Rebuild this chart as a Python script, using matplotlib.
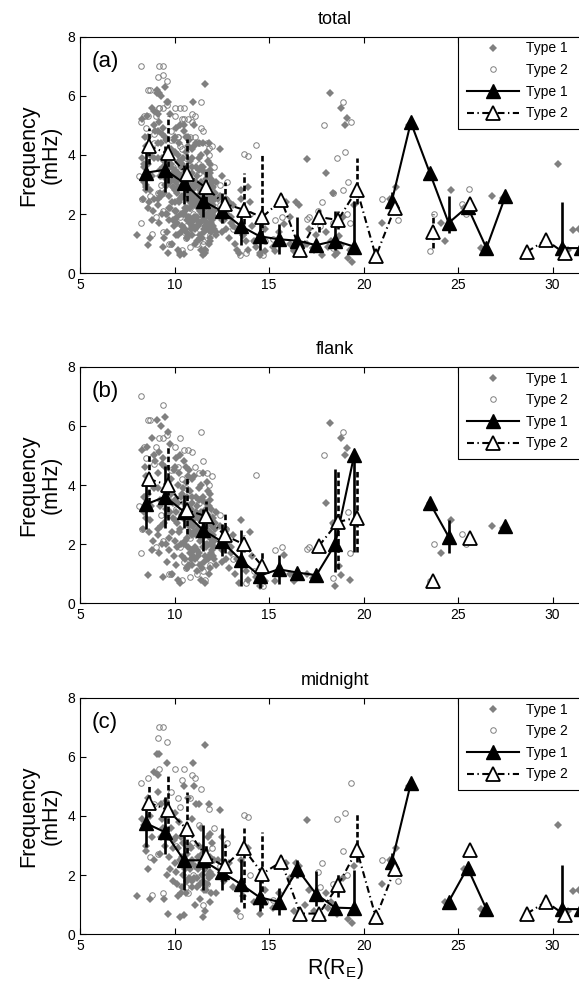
import numpy as np
import matplotlib
matplotlib.use("Agg")
import matplotlib.pyplot as plt
import matplotlib.patches as patches

plt.rcParams['font.family'] = ['Liberation Sans', 'DejaVu Sans']
plt.rcParams['lines.scale_dashes'] = False

# ---- binned means (bin centres) ----
t1_x = [8.5, 9.5, 10.5, 11.5, 12.5, 13.5, 14.5, 15.5, 16.5, 17.5, 18.5, 19.5,
        20.5, 21.5, 22.5, 23.5, 24.5, 25.5, 26.5, 27.5, 28.5, 29.5, 30.5, 31.5]
t2_x = [8.65, 9.65, 10.65, 11.65, 12.65, 13.65, 14.65, 15.65, 16.65, 17.65, 18.65, 19.65,
        20.65, 21.65, 22.65, 23.65, 24.65, 25.65, 26.65, 27.65, 28.65, 29.65, 30.65]
nan = np.nan

# (a) total
a_t1_y = [3.4, 3.5, 3.05, 2.45, 2.1, 1.6, 1.25, 1.15, 1.1, 0.95, 1.1, 0.9,
          nan, 2.45, 5.1, 3.4, 1.7, 2.25, 0.85, 2.6, nan, nan, 0.85, 0.85]
a_t1_lo = [0.6, 0.75, 0.7, 0.55, 0.4, 0.65, 0.45, 0.5, 0.4, 0.15, 0.3, 0.0,
           0, 0.3, 0, 0, 0.35, 0, 0, 0, 0, 0, 0, 0]
a_t1_hi = [0.75, 0.8, 0.6, 0.5, 0.6, 0.45, 0.45, 0.5, 0.8, 0.15, 1.0, 1.55,
           0, 0.3, 0, 0, 0.9, 0, 0, 0, 0, 0, 1.55, 0.45]
a_t2_y = [4.3, 4.05, 3.35, 2.9, 2.35, 2.15, 1.9, 2.47, 0.78, 1.9, 1.8, 2.83,
          0.57, 2.2, nan, 1.4, nan, 2.35, nan, nan, 0.73, 1.12, 0.67]
a_t2_lo = [0.6, 1.0, 0.9, 0.5, 0.5, 0.5, 0.65, 0.2, 0.1, 0.5, 0.3, 0.5,
           0, 0.2, 0, 0.55, 0, 0.2, 0, 0, 0, 0, 0]
a_t2_hi = [0.6, 1.25, 1.2, 0.55, 0.75, 1.25, 2.1, 0.2, 0.1, 0.3, 0.3, 1.05,
           0, 0.2, 0, 0.6, 0, 0.2, 0, 0, 0, 0, 0]

# (b) flank
b_t1_y = [3.35, 3.6, 3.1, 2.48, 2.09, 1.47, 0.93, 1.15, 1.04, 0.95, 2.0, 5.0,
          nan, nan, nan, 3.4, 2.25, nan, nan, 2.6, nan, nan, nan, nan]
b_t1_lo = [0.85, 1.05, 0.55, 0.7, 0.5, 0.9, 0.4, 0.5, 0.1, 0.1, 0.95, 3.25,
           0, 0, 0, 0, 0.55, 0, 0, 0, 0, 0, 0, 0]
b_t1_hi = [0.85, 1.05, 0.55, 0.7, 0.6, 1.0, 0.4, 0.5, 0.1, 0.1, 2.55, 0.0,
           0, 0, 0, 0, 0.55, 0, 0, 0, 0, 0, 0, 0]
b_t2_y = [4.2, 4.0, 3.15, 2.95, 2.3, 2.0, 1.25, nan, nan, 1.95, 2.75, 2.9,
          nan, nan, nan, 0.75, nan, 2.2, nan, nan, nan, nan, nan]
b_t2_lo = [0.8, 1.2, 0.8, 0.45, 0.6, 0.25, 0.3, 0, 0, 0.1, 1.6, 1.15,
           0, 0, 0, 0, 0, 0.1, 0, 0, 0, 0, 0]
b_t2_hi = [0.85, 1.3, 1.1, 0.5, 0.8, 0.3, 0.55, 0, 0, 0.1, 1.75, 1.6,
           0, 0, 0, 0, 0, 0.1, 0, 0, 0, 0, 0]

# (c) midnight
c_t1_y = [3.75, 3.45, 2.5, 2.5, 2.1, 1.7, 1.25, 1.1, 2.2, 1.35, 0.9, 0.88,
          nan, 2.45, 5.1, nan, 1.1, 2.25, 0.85, nan, nan, nan, 0.85, 0.85]
c_t1_lo = [0.8, 0.75, 1.0, 1.0, 0.6, 0.6, 0.45, 0.45, 0.3, 0.4, 0.15, 0,
           0, 0.3, 0, 0, 0, 0, 0, 0, 0, 0, 0, 0]
c_t1_hi = [0.45, 1.2, 1.0, 1.2, 1.5, 0.85, 0.85, 0.45, 0.3, 0.8, 0.15, 1.3,
           0, 0.3, 0, 0, 0, 0, 0, 0, 0, 0, 1.5, 0]
c_t2_y = [4.45, 4.2, 3.55, 2.65, 2.3, 2.9, 2.05, 2.45, 0.7, 0.7, 1.65, 2.85,
          0.57, 2.2, nan, nan, nan, 2.85, nan, nan, 0.7, 1.1, 0.65]
c_t2_lo = [0.5, 1.0, 0.8, 0.4, 0.5, 2.0, 1.15, 0.2, 0.1, 0, 0.4, 0.4,
           0, 0.2, 0, 0, 0, 0, 0, 0, 0, 0, 0]
c_t2_hi = [0.55, 1.2, 1.25, 0.4, 0.75, 0.7, 1.4, 0.2, 0.1, 0, 0.4, 1.2,
           0, 0.2, 0, 0, 0, 0, 0, 0, 0, 0, 0]

# ---- individual events (R, frequency) ----
flank_t1 = [
    (8.3, 5.2), (8.4, 3.1), (8.45, 4.6), (8.5, 2.9), (8.55, 5.3), (8.6, 3.7), (8.65, 2.4), (8.7, 4.1),
    (8.75, 3.3), (8.8, 5.6), (8.85, 2.1), (8.9, 3.9), (8.95, 4.8), (8.4, 3.6), (8.6, 0.95), (8.8, 1.8),
    (8.5, 4.3), (8.7, 2.8), (8.9, 5.0), (8.35, 2.5),
    (9.05, 6.2), (9.1, 2.3), (9.15, 4.4), (9.2, 1.7), (9.25, 3.5), (9.3, 6.0), (9.35, 2.0), (9.4, 4.9),
    (9.45, 2.7), (9.5, 6.3), (9.55, 3.2), (9.6, 1.4), (9.65, 4.0), (9.7, 2.2), (9.75, 5.4), (9.8, 3.7),
    (9.85, 1.0), (9.9, 2.9), (9.95, 4.5), (9.1, 3.9), (9.2, 5.1), (9.3, 2.6), (9.4, 0.9), (9.5, 4.6),
    (9.6, 3.0), (9.7, 1.8), (9.8, 4.2), (9.9, 3.4), (9.15, 2.5), (9.35, 4.7), (9.55, 2.0), (9.75, 3.1),
    (9.95, 1.6), (9.25, 3.3), (9.45, 3.8), (9.65, 5.8), (9.85, 2.4),
    (10.0, 2.8), (10.05, 4.6), (10.1, 3.1), (10.15, 1.9), (10.2, 4.0), (10.25, 2.4), (10.3, 5.0),
    (10.35, 3.6), (10.4, 1.6), (10.45, 2.9), (10.5, 4.8), (10.55, 2.1), (10.6, 3.3), (10.65, 1.2),
    (10.7, 4.3), (10.75, 2.6), (10.8, 3.8), (10.85, 1.5), (10.9, 4.2), (10.95, 2.3),
    (10.05, 3.5), (10.15, 2.7), (10.25, 4.4), (10.35, 2.0), (10.45, 3.9), (10.55, 3.0), (10.65, 2.2),
    (10.75, 4.5), (10.85, 3.2), (10.95, 1.8), (10.1, 1.3), (10.2, 3.4), (10.3, 2.5), (10.4, 3.7),
    (10.5, 2.0), (10.6, 4.1), (10.7, 2.9), (10.8, 1.7), (10.9, 3.6), (11.0, 2.6), (10.0, 2.1),
    (10.2, 0.8), (10.4, 3.0), (10.6, 4.6), (10.8, 2.4), (10.3, 0.7), (10.5, 3.4), (10.7, 1.9),
    (10.9, 2.8), (10.1, 4.9),
    (11.05, 4.3), (11.1, 2.9), (11.15, 3.6), (11.2, 1.8), (11.25, 2.5), (11.3, 3.9), (11.35, 1.3),
    (11.4, 3.1), (11.45, 2.2), (11.5, 4.4), (11.55, 2.7), (11.6, 1.6), (11.65, 3.4), (11.7, 2.0),
    (11.75, 3.8), (11.8, 2.8), (11.85, 1.2), (11.9, 2.4), (11.95, 3.2), (12.0, 2.0), (12.05, 2.9),
    (12.1, 1.5), (12.15, 2.5), (12.2, 3.1), (11.0, 3.0), (11.1, 1.9), (11.2, 3.3), (11.3, 2.3),
    (11.4, 4.0), (11.5, 1.9), (11.6, 3.0), (11.7, 2.5), (11.8, 1.6), (11.9, 3.5), (12.0, 2.6),
    (12.1, 1.9), (12.2, 1.3), (11.05, 2.4), (11.15, 3.1), (11.25, 1.6), (11.35, 2.8), (11.45, 3.5),
    (11.55, 2.3), (11.65, 1.9), (11.75, 3.0), (11.85, 2.2), (11.95, 1.7), (12.05, 2.3), (12.15, 2.7),
    (11.2, 1.1), (11.4, 0.8), (11.6, 0.7), (11.8, 1.0), (12.0, 1.8), (11.3, 3.5), (11.5, 2.9),
    (11.7, 4.1), (11.9, 2.7), (11.1, 1.5), (11.45, 1.2), (11.65, 2.6), (11.85, 3.7), (12.1, 2.1),
    (10.55, 1.5), (10.65, 3.6), (10.75, 1.3), (10.85, 2.7), (10.95, 3.4), (11.05, 1.8), (11.15, 2.3),
    (11.25, 3.0), (11.35, 2.1), (11.45, 2.8), (11.55, 1.4), (11.65, 3.2), (11.75, 1.5), (11.85, 2.9),
    (11.95, 2.3), (12.05, 1.6), (11.0, 1.6), (11.3, 1.7), (11.6, 2.4), (11.9, 2.0), (10.7, 3.3),
    (10.9, 1.3), (11.5, 3.6), (11.8, 3.3),
    (12.4, 2.6), (12.5, 1.8), (12.6, 2.2), (12.7, 1.5), (12.8, 2.0), (12.9, 1.2), (13.0, 1.7),
    (13.1, 2.3), (13.2, 1.0), (13.3, 1.5), (13.5, 2.8), (13.6, 1.3), (13.8, 1.1), (13.9, 0.8),
    (14.1, 1.6), (14.3, 0.9), (14.5, 0.6), (14.6, 1.2), (14.8, 0.75), (12.5, 1.4), (12.7, 2.5),
    (13.0, 1.9), (13.4, 0.7), (14.0, 2.4),
    (15.3, 0.75), (15.8, 1.65), (16.1, 1.0), (16.3, 0.75), (16.6, 0.9), (17.0, 1.0), (17.3, 0.85),
    (18.0, 3.4), (18.2, 6.1), (18.4, 2.7), (18.7, 1.25), (18.8, 0.95), (18.8, 5.6), (19.0, 5.0),
    (19.1, 5.25), (19.3, 0.8), (18.5, 0.6), (23.5, 3.4), (24.1, 1.7), (24.6, 2.8), (26.8, 2.6),
    (27.4, 2.55),
]
flank_t2 = [
    (8.2, 7.0), (9.4, 6.7), (8.6, 6.2), (8.7, 6.2), (9.2, 5.6), (9.4, 5.6), (9.0, 5.3), (9.6, 5.7),
    (10.0, 5.3), (10.3, 5.6), (10.5, 5.2), (10.7, 5.2), (10.9, 5.1), (11.4, 5.8), (11.1, 4.6),
    (11.3, 4.4), (11.5, 4.8), (11.7, 4.4), (8.4, 5.3), (8.5, 4.9), (8.9, 4.7), (9.8, 4.5), (10.2, 4.6),
    (10.4, 4.2), (8.1, 3.3), (8.3, 2.5), (8.2, 1.7), (9.0, 1.9), (9.4, 2.1), (9.7, 1.0), (9.8, 1.0),
    (10.5, 1.4), (10.4, 0.8), (10.8, 0.9), (11.2, 1.0), (11.5, 1.1), (11.6, 0.8), (10.3, 1.9),
    (10.9, 3.1), (12.1, 3.1), (12.4, 3.0), (13.1, 1.5), (13.8, 0.7), (14.2, 1.1), (14.7, 0.6),
    (15.3, 1.8), (15.7, 1.9), (17.0, 1.85), (17.1, 1.9), (17.9, 5.0), (18.9, 5.8), (18.4, 0.85),
    (19.2, 3.1), (19.3, 1.7), (18.4, 2.7), (14.3, 4.35), (23.7, 2.0), (23.5, 0.75), (25.2, 2.35),
    (25.4, 2.0), (12.7, 2.5), (11.9, 1.3), (9.9, 3.6), (10.6, 3.9), (11.0, 2.6), (11.8, 4.0),
    (12.0, 4.3), (10.1, 3.2), (10.8, 2.2), (11.3, 3.4), (11.6, 2.0), (9.3, 3.0), (10.6, 1.2),
    (11.1, 1.4),
]
midnight_t1 = [
    (8.0, 1.3), (8.4, 3.7), (8.5, 2.8), (8.6, 2.2), (8.7, 4.0), (8.8, 3.3), (8.9, 5.5), (8.5, 3.0),
    (8.7, 1.2), (8.9, 2.5), (8.3, 3.9), (8.6, 4.6),
    (9.05, 6.1), (9.1, 4.8), (9.2, 6.1), (9.3, 4.4), (9.4, 3.6), (9.5, 3.0), (9.6, 5.8), (9.7, 2.6),
    (9.8, 3.6), (9.9, 1.8), (9.15, 5.4), (9.35, 3.9), (9.55, 4.5), (9.75, 2.2), (9.95, 3.2),
    (9.25, 2.7), (9.45, 1.2), (9.65, 0.7), (9.85, 4.1), (9.3, 3.3), (9.6, 2.0), (9.9, 2.9),
    (10.0, 4.1), (10.05, 2.4), (10.1, 3.3), (10.15, 1.7), (10.2, 2.9), (10.25, 3.8), (10.3, 2.5),
    (10.35, 1.4), (10.4, 1.6), (10.45, 3.1), (10.5, 0.65), (10.55, 2.2), (10.6, 1.4), (10.65, 2.7),
    (10.7, 4.6), (10.75, 1.9), (10.8, 3.0), (10.85, 2.4), (10.9, 3.9), (10.95, 1.6), (10.1, 2.1),
    (10.3, 0.6), (10.5, 5.0), (10.7, 2.9), (10.9, 1.8), (10.2, 1.3), (10.4, 2.6), (10.6, 3.5),
    (10.8, 2.2), (11.0, 5.8),
    (11.05, 5.0), (11.1, 2.3), (11.15, 4.4), (11.2, 1.9), (11.25, 2.6), (11.3, 4.4), (11.35, 1.2),
    (11.4, 3.6), (11.45, 2.0), (11.5, 2.9), (11.55, 1.5), (11.6, 2.2), (11.65, 2.8), (11.7, 1.7),
    (11.75, 3.3), (11.8, 4.4), (11.85, 2.1), (11.9, 3.4), (11.95, 1.4), (12.0, 2.0), (12.1, 2.5),
    (12.2, 1.4), (12.3, 2.5), (12.4, 4.2), (11.1, 1.0), (11.3, 3.0), (11.5, 0.6), (11.7, 2.5),
    (11.9, 1.1), (11.2, 1.6), (11.4, 2.4), (11.6, 6.4), (11.8, 1.9), (12.0, 3.1), (11.5, 1.8),
    (11.6, 0.8), (12.5, 3.3), (10.45, 2.0), (10.65, 1.8), (10.85, 2.9), (11.05, 1.9), (11.25, 2.2),
    (11.45, 2.7), (11.65, 1.5), (11.85, 2.6), (10.35, 3.3), (10.95, 2.5), (11.35, 1.7), (11.75, 2.0),
    (12.6, 1.8), (12.9, 2.4), (13.1, 1.6), (13.3, 0.8), (13.5, 2.5), (13.6, 1.3), (13.9, 2.9),
    (14.2, 1.1), (14.5, 0.7), (14.8, 1.5), (15.2, 0.9), (15.5, 1.4), (15.9, 2.4), (16.1, 1.9),
    (16.3, 0.8), (16.4, 2.4), (16.6, 2.3), (16.9, 1.0), (17.1, 1.5), (17.0, 3.85), (17.4, 0.8),
    (17.8, 0.6), (18.0, 1.4), (18.3, 1.1), (18.6, 0.7), (18.9, 1.9), (19.2, 0.5), (19.4, 0.37),
    (19.5, 2.3), (17.5, 1.3), (18.1, 0.9),
    (21.0, 1.7), (21.4, 2.5), (21.7, 2.9), (22.4, 5.0), (24.3, 1.1), (25.3, 2.2), (26.2, 0.85),
    (30.3, 3.7), (31.4, 1.5), (30.8, 0.8), (31.1, 1.45),
]
midnight_t2 = [
    (9.2, 7.0), (9.4, 7.0), (9.1, 6.65), (9.6, 6.5), (8.2, 5.1), (8.6, 5.3), (9.2, 5.6), (10.0, 5.6),
    (10.5, 5.6), (10.4, 5.2), (10.9, 5.4), (11.1, 5.3), (10.2, 4.6), (10.8, 4.6), (11.8, 4.25),
    (12.1, 3.6), (13.7, 4.03), (13.9, 3.95), (8.8, 1.33), (9.4, 1.4), (8.7, 2.6), (9.1, 2.7),
    (10.6, 1.6), (10.7, 1.4), (11.5, 1.0), (13.45, 0.62), (14.0, 2.0), (14.8, 1.1), (15.2, 1.15),
    (12.8, 3.1), (19.35, 5.1), (19.0, 4.1), (18.6, 3.9), (18.9, 2.8), (19.1, 2.0), (17.8, 2.4),
    (17.6, 2.1), (17.7, 1.6), (18.4, 1.7), (21.0, 2.5), (21.8, 1.8), (25.6, 2.85), (30.5, 0.7),
    (9.8, 4.8), (10.3, 4.3), (11.3, 3.7), (11.6, 2.5), (12.4, 2.3), (10.1, 3.0), (11.0, 2.0),
    (11.7, 1.7), (9.5, 3.4), (10.9, 3.1), (11.4, 4.9), (12.0, 2.9), (8.9, 4.4),
]
total_t1 = flank_t1 + midnight_t1
total_t2 = flank_t2 + midnight_t2

GRAY = '#808080'
DASHDOT = (0, (5, 2.5, 1, 2.5))
BAR_DASH = (0, (4, 2))


def draw_panel(ax, t1_pts, t2_pts, t1_y, t1_lo, t1_hi, t2_y, t2_lo, t2_hi, title, tag):
    p1 = np.array(t1_pts)
    p2 = np.array(t2_pts)
    ax.plot(p1[:, 0], p1[:, 1], 'D', ms=3.6, color=GRAY, mew=0, label='Type 1', zorder=2)
    ax.plot(p2[:, 0], p2[:, 1], 'o', ms=4.0, mfc='none', mec=GRAY, mew=0.7, label='Type 2', zorder=2)

    ax.errorbar(t1_x, t1_y, yerr=[t1_lo, t1_hi], fmt='none', ecolor='k',
                elinewidth=1.9, capsize=0, zorder=3)
    ax.plot(t1_x, t1_y, '-^', color='k', lw=1.5, ms=9.5, label='Type 1', zorder=4)

    eb = ax.errorbar(t2_x, t2_y, yerr=[t2_lo, t2_hi], fmt='none', ecolor='k',
                     elinewidth=1.9, capsize=0, zorder=3)
    eb[2][0].set_linestyle(BAR_DASH)
    ax.plot(t2_x, t2_y, marker='^', ls=DASHDOT, color='k', lw=1.5, ms=9.5,
            mfc='white', mec='k', mew=1.3, label='Type 2', zorder=5)

    ax.set_xlim(5, 32)
    ax.set_ylim(0, 8)
    ax.set_xticks([5, 10, 15, 20, 25, 30])
    ax.set_yticks([0, 2, 4, 6, 8])
    ax.tick_params(direction='in', top=True, right=True, length=4, labelsize=10)
    for s in ax.spines.values():
        s.set_linewidth(0.8)
    ax.set_title(title, fontsize=13, pad=9)
    ax.set_ylabel('Frequency\n(mHz)', fontsize=15.5, linespacing=1.1)
    ax.text(0.022, 0.94, tag, transform=ax.transAxes, fontsize=16, va='top')

    # legend box (clipped on the right edge like the original)
    box = patches.Rectangle((0.741, 1 - 0.389), 0.3, 0.389, transform=ax.transAxes,
                            facecolor='white', edgecolor='k', lw=0.8, zorder=6, clip_on=False)
    ax.add_patch(box)
    leg = ax.legend(loc='upper left', bbox_to_anchor=(0.748, 1.0), borderaxespad=0,
                    frameon=False, fontsize=10, handlelength=3.8, handletextpad=0.5,
                    labelspacing=0.55, borderpad=0.35, numpoints=1)
    leg.set_zorder(7)


fig = plt.figure(figsize=(5.79, 9.90), dpi=100)
left, width, height = 0.1382, 0.8815, 0.239
ax_a = fig.add_axes([left, 0.724, width, height])
ax_b = fig.add_axes([left, 0.3906, width, height])
ax_c = fig.add_axes([left, 0.0563, width, height])

draw_panel(ax_a, total_t1, total_t2, a_t1_y, a_t1_lo, a_t1_hi, a_t2_y, a_t2_lo, a_t2_hi, 'total', '(a)')
draw_panel(ax_b, flank_t1, flank_t2, b_t1_y, b_t1_lo, b_t1_hi, b_t2_y, b_t2_lo, b_t2_hi, 'flank', '(b)')
draw_panel(ax_c, midnight_t1, midnight_t2, c_t1_y, c_t1_lo, c_t1_hi, c_t2_y, c_t2_lo, c_t2_hi, 'midnight', '(c)')
ax_c.set_xlabel(r'R(R$_\mathregular{E}$)', fontsize=15.5, labelpad=2)

fig.savefig('out.png', dpi=100)
